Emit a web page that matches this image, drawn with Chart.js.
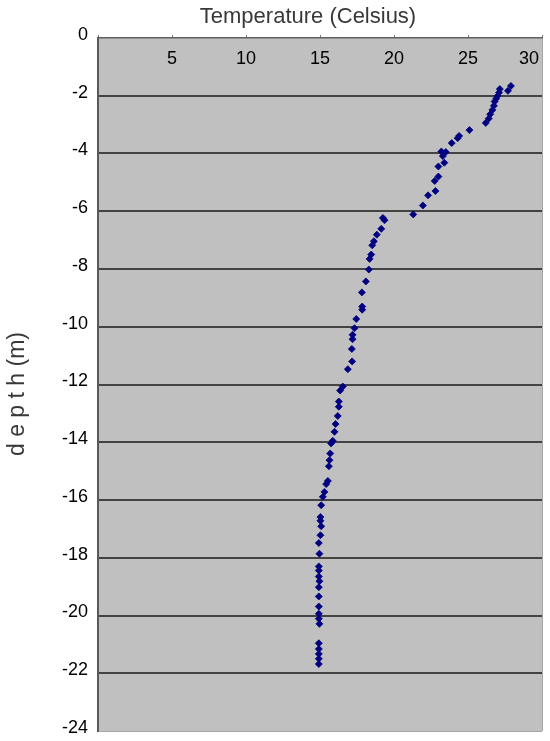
<!DOCTYPE html>
<html>
<head>
<meta charset="utf-8">
<script src="https://cdn.jsdelivr.net/npm/chart.js@4/dist/chart.umd.min.js"></script>
<style>
html,body{margin:0;padding:0;background:#ffffff;}
#wrap{width:550px;height:741px;}
</style>
</head>
<body>
<div id="wrap"><canvas id="c" width="550" height="741"></canvas></div>
<script>
// ---- data ----
const temperature = [
  27.9, 27.7, 27.15, 27.1, 27.0, 26.9, 26.8, 26.75, 26.65, 26.5, 26.4, 26.2,
  25.1, 24.4, 24.3, 23.9, 23.2, 23.5, 23.3, 23.4, 23.0, 23.0, 22.75, 22.8,
  22.3, 21.95, 21.3,
  19.25, 19.36, 19.14, 18.84, 18.64, 18.53, 18.46, 18.35, 18.3, 18.1, 17.83,
  17.85, 17.85, 17.45, 17.33, 17.2, 17.2, 17.15, 17.17, 16.88,
  16.54, 16.36, 16.27, 16.27, 16.2, 16.05, 15.98, 15.86, 15.75, 15.69, 15.64,
  15.6, 15.53, 15.42, 15.3, 15.19,
  15.08, 15.03, 15.03, 15.08, 15.03, 14.92, 14.96, 14.92, 14.92, 14.92, 14.96,
  14.92, 14.92, 14.92, 14.92, 14.92, 14.96, 14.92, 14.92, 14.92, 14.92, 14.92
];
const depth = [
  -1.66, -1.83, -1.77, -1.89, -2.0, -2.1, -2.2, -2.35, -2.49, -2.64, -2.79, -2.94,
  -3.19, -3.39, -3.47, -3.64, -3.93, -3.95, -4.09, -4.32, -4.45, -4.8, -4.95, -5.3,
  -5.45, -5.8, -6.11,
  -6.23, -6.31, -6.61, -6.81, -7.04, -7.18, -7.5, -7.65, -8.02, -8.43, -8.81,
  -9.3, -9.41, -9.73, -10.05, -10.28, -10.43, -10.77, -11.2, -11.47,
  -12.07, -12.21, -12.59, -12.77, -13.09, -13.37, -13.64, -13.95, -14.04, -14.39, -14.62,
  -14.83, -15.34, -15.45, -15.72, -15.89,
  -16.18, -16.59, -16.72, -16.91, -17.22, -17.49, -17.86, -18.3, -18.44, -18.65, -18.81,
  -19.02, -19.34, -19.69, -19.94, -20.11, -20.29, -20.96, -21.16, -21.33, -21.5, -21.68
];
const xTickValues = [5, 10, 15, 20, 25, 30];
const xRange = [0, 30];
const yRange = [-24, 0];
const yStep = 2;
const xTitle = 'Temperature (Celsius)';
const yTitle = 'd e p t h (m)';

const points = temperature.map((t, i) => ({ x: t, y: depth[i] }));

const plotBg = {
  id: 'plotBg',
  beforeDraw(chart) {
    const a = chart.chartArea, ctx = chart.ctx;
    ctx.save();
    ctx.fillStyle = '#c0c0c0';
    ctx.fillRect(a.left, a.top, a.right - a.left, a.bottom - a.top);
    ctx.strokeStyle = '#a6a6a6';
    ctx.lineWidth = 1;
    ctx.beginPath();
    ctx.moveTo(a.right + 0.5, a.top);
    ctx.lineTo(a.right + 0.5, a.bottom);
    ctx.stroke();
    ctx.restore();
  }
};

const textLayer = {
  id: 'textLayer',
  afterDraw(chart) {
    const ctx = chart.ctx, a = chart.chartArea;
    const xs = chart.scales.x;
    ctx.save();
    // x tick labels, inside the plot just under the top border
    ctx.font = '18px "Liberation Sans", Arial, sans-serif';
    ctx.fillStyle = '#000000';
    ctx.textAlign = 'center';
    ctx.textBaseline = 'middle';
    xTickValues.forEach(v => {
      const label = String(v);
      const w = ctx.measureText(label).width;
      const px = Math.min(xs.getPixelForValue(v), a.right - w / 2 - 3);
      ctx.fillText(label, px, a.top + 21);
    });
    // axis titles
    ctx.fillStyle = '#383838';
    ctx.font = '22px "Liberation Sans", Arial, sans-serif';
    ctx.fillText(xTitle, 308, 17);
    ctx.translate(18, 394);
    ctx.rotate(-Math.PI / 2);
    ctx.font = '23px "Liberation Sans", Arial, sans-serif';
    ctx.fillText(yTitle, 0, 0);
    ctx.restore();
  }
};

new Chart(document.getElementById('c'), {
  type: 'scatter',
  data: {
    datasets: [{
      data: points,
      pointStyle: 'rectRot',
      pointRadius: 3.5,
      pointBorderWidth: 0.8,
      backgroundColor: '#000080',
      borderColor: '#000080',
      pointHoverRadius: 3.5
    }]
  },
  options: {
    responsive: false,
    animation: false,
    devicePixelRatio: 1,
    layout: { padding: { left: 0, right: 8, top: 0, bottom: 10 } },
    plugins: { legend: { display: false }, tooltip: { enabled: false }, title: { display: false } },
    scales: {
      x: {
        type: 'linear',
        position: 'top',
        min: xRange[0],
        max: xRange[1],
        ticks: { stepSize: 5, display: false },
        grid: { drawOnChartArea: false, drawTicks: true, tickLength: 3, color: '#7a7a7a', lineWidth: 1 },
        border: { display: true, color: '#5f5f5f', width: 1.5 },
        afterFit(scale) { scale.height = 38; scale.paddingLeft = 0; scale.paddingRight = 0; }
      },
      y: {
        type: 'linear',
        position: 'left',
        min: yRange[0],
        max: yRange[1],
        ticks: {
          stepSize: yStep,
          padding: 10,
          labelOffset: -3,
          color: '#000000',
          font: { family: '"Liberation Sans", Arial, sans-serif', size: 18 }
        },
        grid: {
          drawTicks: false,
          color: ctx => (ctx.tick && ctx.tick.value === yRange[0]) ? '#a6a6a6'
                      : (ctx.tick && ctx.tick.value === yRange[1]) ? 'rgba(0,0,0,0)' : '#434343',
          lineWidth: ctx => (ctx.tick && ctx.tick.value === yRange[0]) ? 1 : 2
        },
        border: { display: true, color: '#5a5a5a', width: 2 },
        afterFit(scale) { scale.width = 98; scale.paddingTop = 0; scale.paddingBottom = 0; }
      }
    }
  },
  plugins: [plotBg, textLayer]
});
</script>
</body>
</html>
